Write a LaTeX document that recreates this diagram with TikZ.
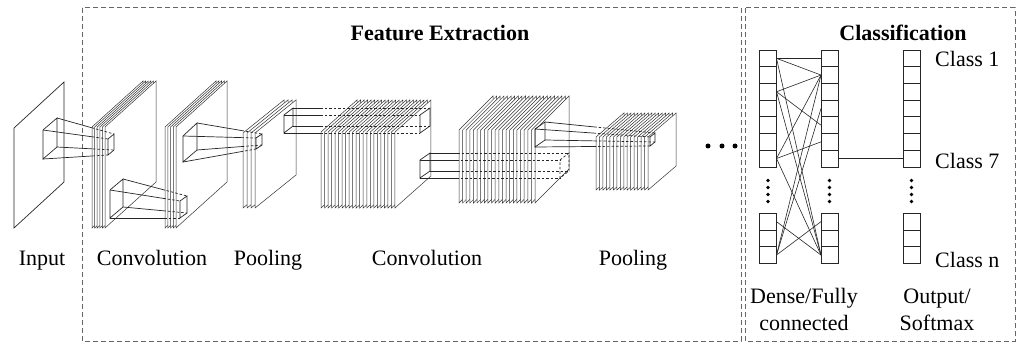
\documentclass[tikz,border=0pt]{standalone}
\usepackage{fontspec}
\setmainfont{Liberation Serif}
\newcommand{\fmstack}[7]{%
  \foreach \ii in {1,...,#6}{%
    \pgfmathsetmacro{\xx}{#1+(\ii-1)*#7}%
    \draw[layer] (\xx,#2) -- ++(#4,-#5) -- ++(0,#3) -- ++(-#4,#5) -- cycle;
  }}
\newcommand{\pyrlines}[2]{%
  \begin{scope}
    \clip (0,0) rectangle (#2,342);
    \foreach \k in {1,...,4}{\draw[ln] (#1s\k) -- (#1t\k);}
  \end{scope}
  \begin{scope}
    \clip (#2,0) rectangle (1017,342);
    \foreach \k in {1,...,4}{\draw[hid] (#1s\k) -- (#1t\k);}
  \end{scope}}
\begin{document}
\begin{tikzpicture}[x=1pt,y=-1pt,
  ln/.style={line width=0.7pt,draw=black!85},
  layer/.style={line width=0.5pt,draw=black!80,fill=white},
  hid/.style={ln,dash pattern=on 2.5pt off 2pt},
  border/.style={line width=1pt,draw=black!60,dash pattern=on 5pt off 3pt},
  lbl/.style={font=\fontsize{22}{26}\selectfont,anchor=base,inner sep=0pt},
  ttl/.style={font=\fontsize{22}{26}\selectfont\bfseries,anchor=base,inner sep=0pt},
  cell/.style={ln,draw,minimum width=17pt,minimum height=16.7pt,inner sep=0pt,outer sep=0pt},
  dot/.style={fill=black}]
\useasboundingbox (0,0) rectangle (1017,342);

% frames
\draw[border] (82,8) rectangle (741,341);
\draw[border] (745,8) rectangle (1015,341);

% input plane
\draw[ln] (14,128) -- (64,82) -- (64,182) -- (14,228) -- cycle;

% feature map stacks
\fmstack{92}{127}{101}{51}{46}{6}{2.6}
\fmstack{165}{127}{101}{51}{46}{5}{2.75}
\fmstack{243}{133}{75}{41}{33}{4}{4}
\fmstack{321}{132}{76}{36}{32}{22}{3.52}
\fmstack{459}{130}{73}{34}{34}{22}{3.62}
\fmstack{596}{137}{53}{28}{24}{16}{3.47}

% pyramid A : input -> conv 1
\coordinate (As1) at (43,130); \coordinate (As2) at (57,118);
\coordinate (As3) at (57,147); \coordinate (As4) at (43,159);
\coordinate (At1) at (108,139); \coordinate (At2) at (114,134);
\coordinate (At3) at (114,150); \coordinate (At4) at (108,155);
\pyrlines{A}{92}
\draw[ln] (As1) -- (As2) -- (As3) -- (As4) -- cycle;
\draw[ln] (At1) -- (At2) -- (At3) -- (At4) -- cycle;

% pyramid B : conv 1 -> conv 2
\coordinate (Bs1) at (110,190); \coordinate (Bs2) at (123,179);
\coordinate (Bs3) at (123,207); \coordinate (Bs4) at (110,218);
\coordinate (Bt1) at (180,201); \coordinate (Bt2) at (187,196);
\coordinate (Bt3) at (187,213); \coordinate (Bt4) at (180,218);
\pyrlines{B}{165}
\draw[ln] (Bs1) -- (Bs2) -- (Bs3) -- (Bs4) -- cycle;
\draw[ln] (Bt1) -- (Bt2) -- (Bt3) -- (Bt4) -- cycle;

% pyramid C : conv 2 -> pool 1
\coordinate (Cs1) at (183,136); \coordinate (Cs2) at (197,123);
\coordinate (Cs3) at (197,150); \coordinate (Cs4) at (183,162);
\coordinate (Ct1) at (256,138); \coordinate (Ct2) at (262,134);
\coordinate (Ct3) at (262,145); \coordinate (Ct4) at (256,149);
\pyrlines{C}{243}
\draw[ln] (Cs1) -- (Cs2) -- (Cs3) -- (Cs4) -- cycle;
\draw[ln] (Ct1) -- (Ct2) -- (Ct3) -- (Ct4) -- cycle;

% pyramid D : pool 1 -> conv 3
\coordinate (Ds1) at (284,115); \coordinate (Ds2) at (293,108);
\coordinate (Ds3) at (293,126); \coordinate (Ds4) at (284,133);
\coordinate (Dt1) at (420,115); \coordinate (Dt2) at (430,108);
\coordinate (Dt3) at (430,126); \coordinate (Dt4) at (420,133);
\pyrlines{D}{321}
\draw[ln] (Ds1) -- (Ds2) -- (Ds3) -- (Ds4) -- cycle;
\draw[ln] (Dt1) -- (Dt2) -- (Dt3) -- (Dt4) -- cycle;

% pyramid E : conv 3 -> conv 4
\coordinate (Es1) at (420,160); \coordinate (Es2) at (430,153);
\coordinate (Es3) at (430,171); \coordinate (Es4) at (420,178);
\coordinate (Et1) at (560,160); \coordinate (Et2) at (569,153);
\coordinate (Et3) at (569,171); \coordinate (Et4) at (560,178);
\pyrlines{E}{459}
\draw[ln] (Es1) -- (Es2) -- (Es3) -- (Es4) -- cycle;
\draw[hid] (Et1) -- (Et2) -- (Et3) -- (Et4) -- cycle;

% pyramid F : conv 4 -> pool 2
\coordinate (Fs1) at (535,129); \coordinate (Fs2) at (545,122);
\coordinate (Fs3) at (545,140); \coordinate (Fs4) at (535,147);
\coordinate (Ft1) at (650,137); \coordinate (Ft2) at (655,133);
\coordinate (Ft3) at (655,142); \coordinate (Ft4) at (650,146);
\pyrlines{F}{596}
\draw[ln] (Fs1) -- (Fs2) -- (Fs3) -- (Fs4) -- cycle;
\draw[ln] (Ft1) -- (Ft2) -- (Ft3) -- (Ft4) -- cycle;

% ellipsis
\foreach \x in {708,722,735} \fill[dot] (\x,146) circle (2.5);

% dense columns
\foreach \c/\x in {1/768,2/829.5,3/911.5}{
  \foreach \k in {1,...,7}{
    \node[cell] (c\c-\k) at (\x,{50+16.7*(\k-0.5)}) {};
  }
  \foreach \k in {8,9,10}{
    \node[cell] (c\c-\k) at (\x,{213.3+16.7*(\k-7.5)}) {};
  }
  \foreach \y in {180.5,187.5,194.5,201.5} \fill[dot] (\x,\y) circle (1.9);
}

% connections
\foreach \a/\b in {1/1,1/2,1/10,3/2,3/5,3/10,7/2,7/6,7/10,8/10,10/2,10/4,10/8}{
  \draw[ln,line width=0.6pt] (c1-\a.east) -- (c2-\b.west);
}
\draw[ln] (c2-7.east) -- (c3-7.west);

% texts
\node[ttl] (tFE) at (440,41) {Feature Extraction};
\node[ttl] (tCl) at (903,41) {Classification};
\node[lbl] (tIn) at (42,265) {Input};
\node[lbl] (tCv1) at (152,265) {Convolution};
\node[lbl] (tPl1) at (268,265) {Pooling};
\node[lbl] (tCv2) at (427,265) {Convolution};
\node[lbl] (tPl2) at (633,265) {Pooling};
\node[lbl,anchor=base west] (tC1) at (935,67) {Class 1};
\node[lbl,anchor=base west] (tC7) at (935,168) {Class 7};
\node[lbl,anchor=base west] (tCn) at (935,267) {Class n};
\node[lbl] (tD1) at (804,303) {Dense/Fully};
\node[lbl] (tD2) at (804,330) {connected};
\node[lbl] (tO1) at (937,303) {Output/};
\node[lbl] (tO2) at (937,330) {Softmax};
\end{tikzpicture}
\end{document}
